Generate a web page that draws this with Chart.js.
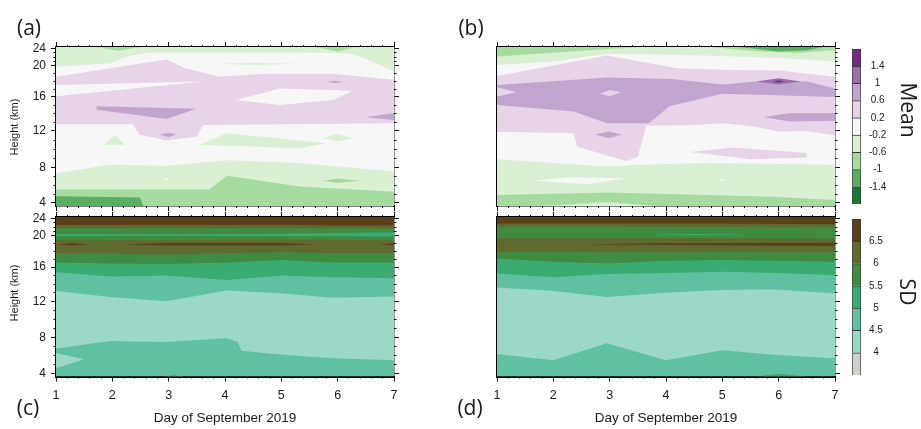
<!DOCTYPE html>
<html>
<head>
<meta charset="utf-8">
<title>Mean and SD height-time sections, September 2019</title>
<script src="https://cdn.jsdelivr.net/npm/chart.js@4.4.1/dist/chart.umd.min.js"></script>
<style>
  html, body { margin: 0; padding: 0; background: #fff; }
  body { position: relative; width: 921px; height: 429px; overflow: hidden; }
  canvas { position: absolute; left: 0; top: 0; }
  .t { position: absolute; white-space: nowrap; color: #1a1a1a; line-height: 1; transform: translate(-50%, -50%); }
  .panel { font: 21px "Open Sans", sans-serif; }
  .ax { font: 13.5px "Liberation Sans", Arial, sans-serif; }
  .yt { font: 11px "Liberation Sans", Arial, sans-serif; transform: translate(-50%, -50%) rotate(-90deg); }
  .cb { font: 21px "Open Sans", sans-serif; transform: translate(-50%, -50%) rotate(90deg); }
</style>
</head>
<body>
<canvas id="pa" width="921" height="429"></canvas>
<canvas id="pb" width="921" height="429"></canvas>
<canvas id="pc" width="921" height="429"></canvas>
<canvas id="pd" width="921" height="429"></canvas>
<canvas id="cbMean" width="921" height="429"></canvas>
<canvas id="cbSd" width="921" height="429"></canvas>

<div class="t panel" style="left:29px;top:27px">(a)</div>
<div class="t panel" style="left:471px;top:27px">(b)</div>
<div class="t panel" style="left:28px;top:407px">(c)</div>
<div class="t panel" style="left:470px;top:407px">(d)</div>
<div class="t yt" style="left:14px;top:127px">Height (km)</div>
<div class="t yt" style="left:14px;top:293px">Height (km)</div>
<div class="t ax" style="left:225px;top:417px">Day of September 2019</div>
<div class="t ax" style="left:666px;top:417px">Day of September 2019</div>
<div class="t cb" style="left:909px;top:110px">Mean</div>
<div class="t cb" style="left:908px;top:292px">SD</div>

<script>
// ---- data ----
const days = [1, 2, 3, 4, 5, 6, 7];
const heightTicks = [4, 8, 12, 16, 20, 24];
const meanLevels = ['-1.4', '-1', '-0.6', '-0.2', '0.2', '0.6', '1', '1.4'];
const meanColors = ['#1b7837', '#5aae61', '#a6dba0', '#d9f0d3', '#f7f7f7', '#e7d4e8', '#c2a5cf', '#9970ab', '#762a83'];
const sdLevels = ['4', '4.5', '5', '5.5', '6', '6.5'];
const sdColors = ['#cfcfcc', '#9bd8c7', '#60c1a2', '#3aac72', '#3e8b41', '#5e6a2e', '#5b3e1c'];

// contour regions: [colour class, polygon of [day, km]] painted in order
const meanA = [
  [4, [[1,3.6],[7,3.6],[7,24.2],[1,24.2]]],
  [3, [[1,24.2],[7,24.2],[7,19.3],[6.5,21.6],[6.2,22.9],[5.3,23.1],[2.67,23.1],[2.25,22.2],[1.96,20.6],[1,19.9]]],
  [2, [[1.7,24.2],[2.1,23.5],[2.5,24.2]]],
  [2, [[5.6,24.2],[6.0,23.3],[6.3,24.2]]],
  [3, [[3.9,20.5],[4.5,20.75],[5.3,20.5],[4.5,20.2]]],
  [5, [[1,18.6],[2.96,21.5],[3.3,19.7],[3.9,18.6],[4.7,19.0],[5.9,19.0],[7,18.2],[7,12.9],[3.61,12.7],[3.5,11.4],[2.96,10.95],[2.48,11.6],[2.36,12.8],[1,12.8]]],
  [4, [[1,17.55],[3.61,18.0],[1,16.1]]],
  [4, [[4.2,15.65],[4.97,17.1],[6.27,16.8],[5.92,15.65],[4.97,15.06]]],
  [6, [[1.72,14.9],[3.49,14.6],[2.96,13.4],[1.72,14.5]]],
  [6, [[2.84,11.6],[3.0,11.8],[3.14,11.6],[3.0,11.35]]],
  [6, [[6.5,13.6],[7,14.1],[7,13.3]]],
  [6, [[5.8,17.95],[5.95,18.1],[6.1,17.95],[5.95,17.8]]],
  [3, [[1.84,10.5],[2.05,11.6],[2.22,10.5]]],
  [3, [[3.55,10.5],[4.03,11.75],[5.8,10.65],[5.33,10.1]]],
  [3, [[5.74,11.2],[6.0,11.7],[6.27,11.2],[6.0,10.85]]],
  [3, [[1,7.36],[1.96,8.3],[2.96,8.2],[4.03,8.8],[5.33,8.5],[7,7.55],[7,3.6],[1,3.6]]],
  [4, [[2.9,6.7],[2.96,6.8],[3.02,6.7],[2.96,6.6]]],
  [2, [[1,5.55],[3.73,5.55],[4.03,7.06],[5.33,5.85],[7,5.28],[7,3.6],[1,3.6]]],
  [2, [[5.74,6.5],[6.0,6.75],[6.39,6.5],[6.0,6.25]]],
  [1, [[1,4.75],[2.49,4.62],[2.55,3.6],[1,3.6]]]
];

const meanB = [
  [4, [[1,3.6],[7,3.6],[7,24.2],[1,24.2]]],
  [3, [[1,24.2],[7,24.2],[7,21.0],[6,21.8],[5,22.3],[4.1,22.6],[2.95,22.8],[2,21.0],[1,20.2]]],
  [2, [[1,24.2],[3.55,24.2],[2.7,23.7],[1,22.2]]],
  [2, [[4.8,24.2],[7,24.2],[7,23.6],[6.3,23.0],[5.5,23.5]]],
  [1, [[5.3,24.2],[6.0,23.3],[6.5,23.6],[6.8,24.2]]],
  [5, [[1,18.7],[2.95,22.4],[4.2,19.7],[5.0,19.5],[6,19.4],[7,18.6],[7,11.5],[6.5,12.0],[6.0,11.9],[5.6,12.5],[5.0,12.9],[4.5,12.7],[3.65,12.6],[3.5,9.2],[3.3,8.7],[2.8,9.6],[2.42,10.3],[2.36,11.75],[1,11.9]]],
  [6, [[1,17.55],[2.95,18.5],[4.1,18.3],[5.0,17.6],[5.6,18.0],[6.5,18.0],[7,17.1],[7,16.0],[5.0,16.4],[4.06,14.9],[3.7,12.9],[2.95,12.9],[2.36,14.3],[1,15.06]]],
  [5, [[1,17.25],[1.35,16.6],[1,16.05]]],
  [5, [[2.83,16.4],[3.0,16.9],[3.2,16.6],[3.0,16.1]]],
  [7, [[5.6,18.0],[6.0,18.4],[6.4,18.0],[6.0,17.6]]],
  [8, [[5.9,18.0],[6.0,18.15],[6.1,18.0],[6.0,17.85]]],
  [6, [[5.73,13.6],[6.2,14.1],[7,14.1],[7,13.2],[6.2,13.1]]],
  [6, [[2.74,11.6],[2.98,11.95],[3.22,11.6],[2.98,11.2]]],
  [5, [[4.43,9.7],[5.2,10.2],[6.5,9.6],[6.5,9.1],[5.5,8.9]]],
  [3, [[1,8.9],[2.95,8.1],[3.54,8.3],[4.72,8.5],[7,8.3],[7,3.6],[1,3.6]]],
  [4, [[1.65,6.5],[2.3,6.9],[3.3,6.8],[2.6,6.1]]],
  [4, [[4.9,6.6],[5.0,6.7],[5.1,6.6],[5.0,6.5]]],
  [2, [[1,4.9],[2.95,5.17],[4.72,4.9],[5.9,4.7],[7,4.34],[7,3.6],[1,3.6]]],
  [3, [[1.8,3.6],[2.95,4.1],[3.8,3.6]]]
];

// SD boundaries, panel (c)
const cLightLo = [[1,6.8],[1.96,7.65],[2.96,7.55],[4.03,7.95],[4.23,7.55],[4.29,6.55],[5.03,6.1],[5.92,5.7],[7,5.5]];
const cLightHi = [[1,13.2],[1.96,12.5],[2.96,12.0],[4.03,13.25],[5.03,12.9],[5.92,12.4],[7,12.55]];
const cB5 = [[1,15.4],[1.96,14.9],[2.96,15.0],[4.03,14.5],[5.03,15.0],[5.92,14.8],[7,14.7]];
const cB55 = [[1,16.6],[1.96,16.45],[2.96,16.4],[4.03,16.6],[5.03,16.9],[5.92,16.6],[7,16.6]];
const cB6 = [[1,17.8],[2,17.75],[3,17.6],[4,17.8],[5,17.9],[6,17.8],[7,17.8]];
const cUpLo = [[1,19.45],[3,19.45],[5,19.5],[7,19.45]];
const cUpHi = [[1,21.8],[3,21.8],[5,21.75],[7,21.7]];
const cStreakLo = [[1,20.0],[3,20.05],[5,20.0],[6,19.95],[7,19.9]];
const cStreakHi = [[1,20.45],[3,20.4],[5,20.5],[6,20.7],[7,20.85]];
const cB65 = [[1,22.5],[2,22.55],[3,22.6],[4,22.55],[5,22.6],[6,22.4],[7,22.4]];

// SD boundaries, panel (d)
const dLightLo = [[1,6.2],[2,5.5],[2.95,7.4],[4.0,5.5],[5.0,6.6],[5.9,6.1],[7,5.7]];
const dLightHi = [[1,13.6],[2,13.2],[2.95,12.5],[4.0,13.0],[5.0,13.3],[5.9,13.4],[7,12.9]];
const dB5 = [[1,15.25],[2,14.8],[2.95,15.2],[4,15.3],[5,15.45],[6,15.3],[7,15.05]];
const dB55 = [[1,17.1],[2,16.67],[2.95,16.45],[4,16.8],[5,16.9],[6,16.8],[7,16.67]];
const dB6 = [[1,17.95],[3,17.9],[5,17.95],[7,17.95]];
const dUpLo = [[1,19.7],[3,19.7],[5,19.7],[7,19.65]];
const dUpHi = [[1,22.1],[3,22.1],[5,22.05],[7,22.0]];
const dB65 = [[1,22.9],[3,22.9],[5,22.85],[7,22.7]];

// ---- geometry of the irregular height axis (km -> fraction of axis) ----
const warpKm = [3.6, 4, 8, 12, 16, 20, 24, 24.2];
const warpAt = [0, 0.019, 0.242, 0.472, 0.686, 0.881, 0.99, 1];
const H_MIN = 3.6, H_MAX = 24.2;

function interp(v, xs, ys) {
  if (v <= xs[0]) return ys[0] + (v - xs[0]) * (ys[1] - ys[0]) / (xs[1] - xs[0]);
  for (let i = 1; i < xs.length; i++) {
    if (v <= xs[i]) return ys[i - 1] + (v - xs[i - 1]) * (ys[i] - ys[i - 1]) / (xs[i] - xs[i - 1]);
  }
  const n = xs.length - 1;
  return ys[n] + (v - xs[n]) * (ys[n] - ys[n - 1]) / (xs[n] - xs[n - 1]);
}

class HeightScale extends Chart.LinearScale {
  getPixelForValue(v) { return this.getPixelForDecimal(interp(v, warpKm, warpAt)); }
  getValueForPixel(p) { return interp(this.getDecimalForPixel(p), warpAt, warpKm); }
}
HeightScale.id = 'height';
HeightScale.defaults = {};
Chart.register(HeightScale);

Chart.defaults.font.family = '"Liberation Sans", Arial, sans-serif';
Chart.defaults.color = '#1a1a1a';

function box() { return [[1, H_MIN], [7, H_MIN], [7, H_MAX], [1, H_MAX]]; }
function band(lo, hi) { return lo.concat(hi.slice().reverse()); }
function toTop(line) { return line.concat([[7, H_MAX], [1, H_MAX]]); }

const sdC = [
  [2, box()],
  [1, band(cLightLo, cLightHi)],
  [1, [[1,6.3],[1.5,5.6],[1,4.6]]],
  [3, [[2.9,3.6],[3.1,3.75],[3.3,3.6]]],
  [3, toTop(cB5)],
  [4, toTop(cB55)],
  [5, toTop(cB6)],
  [4, band(cUpLo, cUpHi)],
  [3, band(cStreakLo, cStreakHi)],
  [6, toTop(cB65)],
  [6, [[1,18.92],[1.3,19.05],[1.6,18.92],[1.3,18.82]]],
  [6, [[2.2,18.92],[3,19.1],[5,19.1],[5.6,18.92],[5,18.78],[3,18.78]]],
  [6, [[6.75,18.92],[7,19.08],[7,18.8]]]
];

const sdD = [
  [2, box()],
  [1, band(dLightLo, dLightHi)],
  [3, [[5.6,3.6],[6.0,3.95],[6.5,3.6]]],
  [3, toTop(dB5)],
  [4, toTop(dB55)],
  [5, toTop(dB6)],
  [4, band(dUpLo, dUpHi)],
  [3, [[3.7,20.28],[4.5,20.48],[5.5,20.3],[4.5,20.1]]],
  [6, toTop(dB65)],
  [6, [[2.5,18.95],[4,19.05],[7,19.12],[7,18.72],[4,18.85]]]
];

// ---- axes ----
const xMinor = [];
for (let d = 1; d < 7; d++) for (let k = 1; k < 5; k++) xMinor.push(+(d + k * 0.2).toFixed(1));
const yMinor = [];
for (let h = 4; h <= 24; h++) if (h % 4) yMinor.push(h);

// size: thickness kept for the axis box (labels are clipped to it)
function tickAxis(axis, position, vals, len, opt) {
  opt = opt || {};
  const isX = axis === 'x';
  const size = opt.size || 0;
  return {
    type: isX ? 'linear' : 'height',
    axis: axis,
    position: position,
    weight: opt.labels ? 1 : 0,
    min: isX ? 1 : H_MIN,
    max: isX ? 7 : H_MAX,
    afterFit: s => { if (isX) s.height = size; else s.width = size; },
    afterBuildTicks: s => { s.ticks = vals.map(v => ({ value: v })); },
    grid: { drawOnChartArea: false, drawTicks: len > 0, tickLength: len, tickColor: '#111', tickWidth: 1 },
    border: { display: !!opt.border, color: '#000', width: opt.bw || 1.4 },
    ticks: {
      display: !!opt.labels,
      autoSkip: false, maxRotation: 0,
      padding: isX ? 7 : 5,
      font: { size: isX ? 12.5 : 12 },
      color: '#1a1a1a'
    },
    z: 1
  };
}

function panelScales(leftTicks, bottomLabels) {
  return {
    x: tickAxis('x', 'bottom', days, 5, { border: true, labels: bottomLabels, size: bottomLabels ? 30 : 0, bw: bottomLabels ? 2 : 1.4 }),
    xm: tickAxis('x', 'bottom', xMinor, 2),
    xt: tickAxis('x', 'top', days, 5, { border: true }),
    xtm: tickAxis('x', 'top', xMinor, 2),
    y: tickAxis('y', 'left', heightTicks, leftTicks ? 5 : 0, { border: true, labels: leftTicks, size: leftTicks ? 44 : 0 }),
    ym: tickAxis('y', 'left', yMinor, leftTicks ? 2.5 : 0),
    yr: tickAxis('y', 'right', heightTicks, 5, { border: true }),
    yrm: tickAxis('y', 'right', yMinor, 2.5)
  };
}

function drawPanel(id, regions, colors, pad, leftTicks, bottomLabels) {
  const n = regions.length;
  const p = Object.assign({}, pad);
  if (leftTicks) p.left -= 44;
  if (bottomLabels) p.bottom -= 30;
  new Chart(document.getElementById(id), {
    type: 'line',
    data: {
      datasets: regions.map(([c, pts], i) => ({
        data: pts.map(([x, y]) => ({ x, y })),
        fill: 'shape',
        backgroundColor: colors[c],
        borderColor: 'rgba(0,0,0,0)',
        borderWidth: 0,
        pointRadius: 0,
        tension: 0,
        order: n - i
      }))
    },
    options: {
      responsive: false,
      animation: false,
      events: [],
      layout: { padding: p },
      plugins: { legend: { display: false }, tooltip: { enabled: false } },
      scales: panelScales(leftTicks, bottomLabels)
    }
  });
}

drawPanel('pa', meanA, meanColors, { left: 56, top: 47, right: 527, bottom: 223 }, true, false);
drawPanel('pb', meanB, meanColors, { left: 497, top: 47, right: 86, bottom: 223 }, false, false);
drawPanel('pc', sdC, sdColors, { left: 56, top: 217, right: 527, bottom: 52.5 }, true, true);
drawPanel('pd', sdD, sdColors, { left: 497, top: 217, right: 86, bottom: 52.5 }, false, true);

function colorbar(id, colors, labels, pad) {
  new Chart(document.getElementById(id), {
    type: 'bar',
    data: {
      labels: [''],
      datasets: colors.map(c => ({
        data: [1], backgroundColor: c, borderColor: '#3a3a3a', borderWidth: 1,
        barPercentage: 1, categoryPercentage: 1
      }))
    },
    options: {
      responsive: false,
      animation: false,
      events: [],
      layout: { padding: pad },
      plugins: { legend: { display: false }, tooltip: { enabled: false } },
      scales: {
        x: { stacked: true, display: false },
        y: {
          stacked: true, position: 'right', min: 0, max: colors.length,
          afterFit: s => { s.width = 30; },
          afterBuildTicks: s => { s.ticks = labels.map((l, i) => ({ value: i + 1 })); },
          grid: { display: false },
          border: { display: false },
          ticks: {
            autoSkip: false, padding: 0, crossAlign: 'center',
            font: { size: 10 }, color: '#1a1a1a',
            callback: v => labels[v - 1]
          }
        }
      }
    }
  });
}

colorbar('cbMean', meanColors, meanLevels, { left: 852, top: 49, right: 30, bottom: 225 });
colorbar('cbSd', sdColors, sdLevels, { left: 852, top: 219, right: 30, bottom: 54 });
</script>
</body>
</html>
